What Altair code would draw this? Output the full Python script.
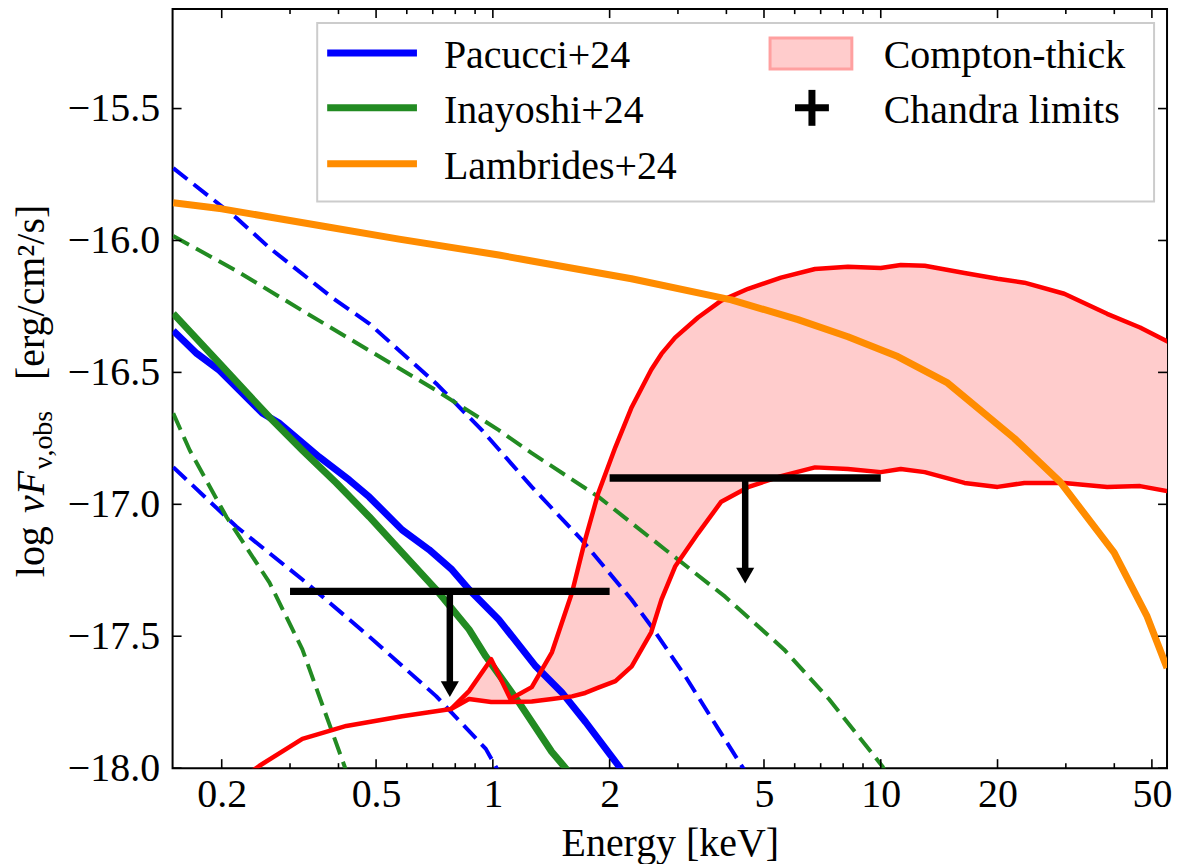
import altair as alt
import pandas as pd

FONT = "Liberation Serif"
FS = 40
W, H = 997, 761
XDOM = [0.1494, 54.7]
YDOM = [-18.0, -15.123]

# ---------------- data ----------------
# Pacucci+24 (solid and dashed bounds)
pac_E = [0.150, 0.1724, 0.1975, 0.2548, 0.2818, 0.357, 0.4266, 0.480, 0.5835, 0.685,
         0.7844, 0.868, 1.036, 1.29, 1.504, 1.734, 2.109, 2.25]
pac_v = [-16.342, -16.428, -16.493, -16.655, -16.693, -16.821, -16.908, -16.972, -17.097, -17.172,
         -17.248, -17.323, -17.437, -17.614, -17.712, -17.825, -17.991, -18.05]
pacu_E = [0.150, 0.2184, 0.2656, 0.3856, 0.480, 0.714, 0.937, 1.26, 1.693, 2.277, 2.563, 3.134,
          3.811, 4.418, 4.6]
pacu_v = [-15.726, -15.915, -16.028, -16.217, -16.315, -16.542, -16.719, -16.934, -17.134, -17.361,
          -17.463, -17.652, -17.851, -18.0, -18.04]
pacl_E = [0.150, 0.2184, 0.3228, 0.480, 0.714, 0.959, 1.018, 1.05]
pacl_v = [-16.859, -17.085, -17.285, -17.501, -17.727, -17.927, -17.995, -18.03]

# Inayoshi+24
ina_E = [0.150, 0.1975, 0.2656, 0.3228, 0.395, 0.480, 0.5835, 0.714, 0.868, 0.959, 1.166, 1.418,
         1.54, 1.6]
ina_v = [-16.277, -16.466, -16.670, -16.795, -16.919, -17.047, -17.183, -17.323, -17.474, -17.576,
         -17.750, -17.938, -18.0, -18.03]
inau_E = [0.150, 0.2184, 0.3228, 0.480, 0.714, 1.036, 1.26, 1.873, 2.785, 3.97, 5.63, 7.35,
          10.12, 10.5]
inau_v = [-15.983, -16.115, -16.266, -16.417, -16.568, -16.719, -16.806, -16.972, -17.172, -17.350,
          -17.550, -17.738, -17.995, -18.04]
inal_E = [0.150, 0.1654, 0.2058, 0.2656, 0.3228, 0.414, 0.43]
inal_v = [-16.655, -16.795, -17.048, -17.297, -17.550, -17.99, -18.06]

# Lambrides+24
lam_E = [0.150, 0.2, 0.379, 0.573, 1.036, 1.26, 2.277, 4.12, 6.12, 8.23, 11.06, 14.87, 22.1,
         29.0, 39.96, 48.6, 54.7]
lam_v = [-15.857, -15.880, -15.950, -15.995, -16.055, -16.078, -16.145, -16.225, -16.300, -16.365,
         -16.440, -16.540, -16.750, -16.915, -17.183, -17.425, -17.62]

# Compton-thick band
red_low_E = [0.23, 0.2503, 0.3228, 0.419, 0.5835, 0.78]
red_low_v = [-18.03, -17.991, -17.889, -17.840, -17.803, -17.776]
ct_E = [0.78, 0.868, 0.99, 1.11, 1.26, 1.42, 1.60, 1.73, 1.87, 2.07, 2.28, 2.56, 2.72, 2.95,
        3.38, 3.88, 4.55, 5.53, 6.77, 8.23, 10.0, 11.26, 12.98, 16.44, 20.0, 23.45, 29.72,
        38.33, 46.6, 56.3]
ct_up = [-17.776, -17.708, -17.587, -17.738, -17.693, -17.561, -17.334, -17.134, -16.957, -16.783,
         -16.632, -16.49, -16.43, -16.368, -16.292, -16.228, -16.183, -16.141, -16.108, -16.100,
         -16.104, -16.093, -16.096, -16.123, -16.145, -16.16, -16.202, -16.278, -16.330, -16.391]
ct_lo = [-17.776, -17.738, -17.749, -17.749, -17.747, -17.738, -17.728, -17.715, -17.695, -17.670,
         -17.614, -17.485, -17.361, -17.236, -17.11, -16.99, -16.935, -16.893, -16.860, -16.866,
         -16.878, -16.866, -16.878, -16.919, -16.934, -16.919, -16.919, -16.934, -16.931, -16.953]

# Chandra upper limits
lim_lo = [0.3, 2.0]
lim_hi = [2.0, 10.0]
lim_v = [-17.33, -16.90]
ARROW = 0.4

# axis ticks
x_major = [0.2, 0.5, 1, 2, 5, 10, 20, 50]
x_minor = [0.3, 0.4, 0.6, 0.7, 0.8, 0.9, 3, 4, 6, 7, 8, 9, 30, 40]
y_major = [-18.0, -17.5, -17.0, -16.5, -16.0, -15.5]

# ---------------- encodings ----------------
xscale = alt.Scale(type="log", domain=XDOM)
yscale = alt.Scale(domain=YDOM)
xaxis = alt.Axis(values=x_major, format="~g", ticks=False, tickSize=0, domain=False, grid=False,
                 labelFont=FONT, labelFontSize=FS, labelColor="black", labelPadding=6,
                 labelFlush=False, titleFont=FONT, titleFontSize=FS, titleFontWeight="normal",
                 titleColor="black", titlePadding=10)
yaxis = alt.Axis(values=y_major, format=".1f", ticks=False, tickSize=0, domain=False, grid=False,
                 labelFont=FONT, labelFontSize=FS, labelColor="black", labelPadding=13,
                 labelFlush=False, title=None)


def X(f):
    return alt.X(f"{f}:Q", scale=xscale, axis=xaxis, title="Energy [keV]")


def Y(f):
    return alt.Y(f"{f}:Q", scale=yscale, axis=yaxis, title=None)


def curve(E, v, color, width, dash=None):
    df = pd.DataFrame({"E": E, "v": v})
    kw = dict(color=color, strokeWidth=width, clip=True, strokeJoin="round")
    if dash:
        kw["strokeDash"] = dash
        kw["strokeCap"] = "butt"
    return alt.Chart(df).mark_line(**kw).encode(x=X("E"), y=Y("v"), order="E:Q")


BLUE, GREEN, ORANGE, RED = "#0000ff", "#228b22", "#ff8c00", "#ff0000"
DASH = [18, 8]

layers = []
band = pd.DataFrame({"E": ct_E, "up": ct_up, "lo": ct_lo})
layers.append(alt.Chart(band).mark_area(color="#ffcccc", clip=True).encode(
    x=X("E"), y=Y("up"), y2=alt.Y2("lo:Q")))

layers += [
    curve(pacu_E, pacu_v, BLUE, 4, DASH),
    curve(pacl_E, pacl_v, BLUE, 4, DASH),
    curve(inau_E, inau_v, GREEN, 4, DASH),
    curve(inal_E, inal_v, GREEN, 4, DASH),
    curve(pac_E, pac_v, BLUE, 7),
    curve(ina_E, ina_v, GREEN, 7),
    curve(red_low_E + ct_E[1:], red_low_v + ct_up[1:], RED, 4.5),
    curve(ct_E, ct_lo, RED, 4.5),
    curve(lam_E, lam_v, ORANGE, 7),
]

# Chandra limits
lim = pd.DataFrame({"lo": lim_lo, "hi": lim_hi, "v": lim_v})
limbase = alt.Chart(lim).transform_calculate(
    xm="sqrt(datum.lo * datum.hi)", tip=f"datum.v - {ARROW}")
layers.append(alt.Chart(lim).mark_rule(color="black", strokeWidth=7.5, strokeCap="butt").encode(
    x=X("lo"), x2=alt.X2("hi:Q"), y=Y("v")))
layers.append(limbase.mark_rule(color="black", strokeWidth=6.5, strokeCap="butt", y2Offset=-12).encode(
    x=X("xm"), y=Y("v"), y2=alt.Y2("tip:Q")))
layers.append(limbase.mark_point(shape="triangle-down", size=330, filled=True, color="black",
                                 opacity=1, yOffset=-7.8).encode(x=X("xm"), y=Y("tip")))

# inward ticks on all sides
dmaj = pd.DataFrame({"t": x_major})
dmin = pd.DataFrame({"t": x_minor})
dy = pd.DataFrame({"t": y_major})
tick = dict(color="black", strokeWidth=1.6)
layers += [
    alt.Chart(dmaj).mark_rule(**tick).encode(x=X("t"), y=alt.value(H), y2=alt.value(H - 9)),
    alt.Chart(dmin).mark_rule(**tick).encode(x=X("t"), y=alt.value(H), y2=alt.value(H - 5)),
    alt.Chart(dmaj).mark_rule(**tick).encode(x=X("t"), y=alt.value(0), y2=alt.value(9)),
    alt.Chart(dmin).mark_rule(**tick).encode(x=X("t"), y=alt.value(0), y2=alt.value(5)),
    alt.Chart(dy).mark_rule(**tick).encode(y=Y("t"), x=alt.value(0), x2=alt.value(9)),
    alt.Chart(dy).mark_rule(**tick).encode(y=Y("t"), x=alt.value(W - 9), x2=alt.value(W)),
]

one = pd.DataFrame({"a": [0]})


def txt(s, x, y, size=FS, angle=0, style="normal", align="left", baseline="alphabetic"):
    kw = dict(font=FONT, fontSize=size, color="black", align=align, baseline=baseline,
              fontStyle=style)
    if angle:
        kw["angle"] = angle
    return alt.Chart(one).mark_text(**kw).encode(x=alt.value(x), y=alt.value(y), text=alt.value(s))


def hline(x1, x2, y, color, width):
    return alt.Chart(one).mark_rule(color=color, strokeWidth=width, strokeCap="butt").encode(
        x=alt.value(x1), x2=alt.value(x2), y=alt.value(y))


def vline(x, y1, y2, color, width):
    return alt.Chart(one).mark_rule(color=color, strokeWidth=width, strokeCap="butt").encode(
        x=alt.value(x), y=alt.value(y1), y2=alt.value(y2))


# legend
layers.append(alt.Chart(one).mark_rect(fill="white", fillOpacity=0.8, stroke="#cccccc",
                                       strokeWidth=2).encode(
    x=alt.value(145), x2=alt.value(984), y=alt.value(14), y2=alt.value(193)))
layers += [
    hline(155, 245, 44, BLUE, 7), txt("Pacucci+24", 272, 59),
    hline(155, 245, 99, GREEN, 7), txt("Inayoshi+24", 272, 114),
    hline(155, 245, 155, ORANGE, 7), txt("Lambrides+24", 272, 170),
]
layers.append(alt.Chart(one).mark_rect(fill="#ffcccc", stroke="#ffa0a0", strokeWidth=3).encode(
    x=alt.value(599), x2=alt.value(681), y=alt.value(29), y2=alt.value(60)))
layers += [
    txt("Compton-thick", 713, 59),
    hline(624, 658, 99, "black", 7), vline(641, 81, 117, "black", 7),
    txt("Chandra limits", 713, 114),
]

# y-axis title pieces (rotated)
layers += [
    txt("log", -129, 544, angle=270, align="center"),
    txt("νF", -129, 484, angle=270, align="center", style="italic"),
    txt("ν,obs", -121, 432, size=28, angle=270, align="center"),
    txt("[erg/cm²/s]", -129, 284, angle=270, align="center"),
]

chart = alt.layer(*layers).properties(
    width=W, height=H,
    autosize=alt.AutoSizeParams(type="none"),
    padding={"left": 165, "top": 0, "right": 12, "bottom": 95},
    background="white",
).configure_view(stroke="black", strokeWidth=2)

chart.save("out.html", embed_options={"renderer": "svg", "actions": False})
